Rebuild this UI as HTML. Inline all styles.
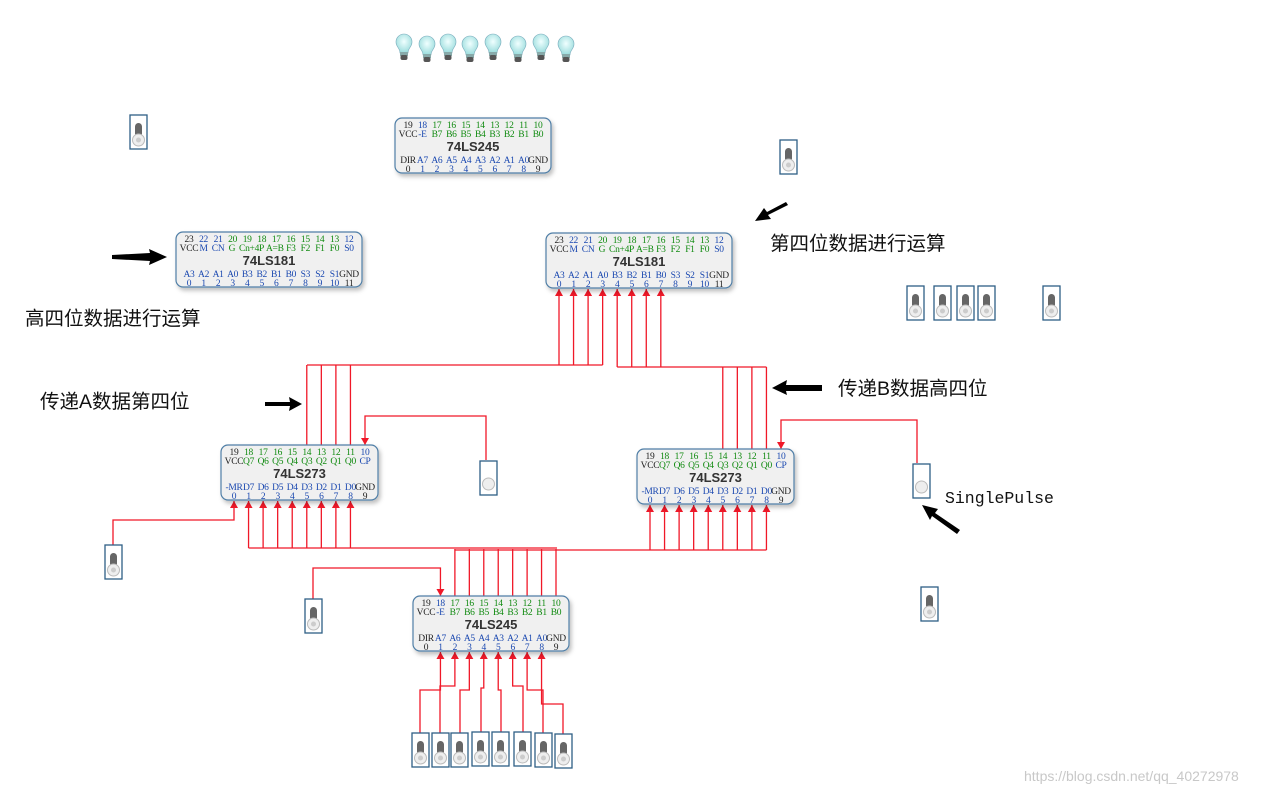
<!DOCTYPE html>
<html><head><meta charset="utf-8"><style>
html,body{margin:0;padding:0;background:#fff;width:1276px;height:793px;overflow:hidden}
svg{display:block}
.t{font-family:"Liberation Sans","Noto Sans CJK SC",sans-serif;font-size:19.5px;fill:#111}
</style></head><body>
<svg id="s" width="1276" height="793" xmlns="http://www.w3.org/2000/svg">
<defs>
<filter id="sh" x="-10%" y="-10%" width="130%" height="140%"><feDropShadow dx="2" dy="3" stdDeviation="2" flood-color="#000" flood-opacity="0.25"/></filter>
<radialGradient id="bg" cx="50%" cy="40%" r="60%"><stop offset="0" stop-color="#f0ffff"/><stop offset="1" stop-color="#9adcdc"/></radialGradient>
</defs>
<g id="w" fill="none" stroke="#f01828" stroke-width="1.3"></g>
<g id="ah" fill="#f01828"></g>
<g id="c"></g>
<text class="t" x="770" y="250">第四位数据进行运算</text>
<text class="t" x="25" y="325">高四位数据进行运算</text>
<text class="t" x="40" y="408">传递A数据第四位</text>
<text class="t" x="838" y="395">传递B数据高四位</text>
<text x="945" y="503" style="font-family:'Liberation Mono',monospace;font-size:16.5px" fill="#111">SinglePulse</text>
<text x="1024" y="781" style="font-family:'Liberation Sans',sans-serif;font-size:14px" fill="#c8c8c8">https://blog.csdn.net/qq_40272978</text>
<g fill="#000">
<path d="M112,255 L150,253 L149,249 L167,257 L149,265 L150,261 L112,259Z"/>
<path d="M265,402 L290,402 L289,397 L302,404 L289,411 L290,406 L265,406Z"/>
<path d="M788,205 L768,215 L771,219 L755,221 L764,208 L767,212 L786,202Z"/>
<path d="M822,385 L786,385 L787,380 L772,388 L787,395 L786,391 L822,391Z"/>
<path d="M960,530 L935,513 L938,509 L922,505 L930,520 L932,516 L957,534Z"/>
</g>
</svg>
<script>
var NS="http://www.w3.org/2000/svg",C=document.getElementById('c'),W=document.getElementById('w'),AH=document.getElementById('ah');
function el(p,n,a,t){var e=document.createElementNS(NS,n);for(var k in a)e.setAttribute(k,a[k]);if(t!=null)e.textContent=t;p.appendChild(e);return e;}
var K="#222",B="#1a48b0",G="#108a10";
function chip(x,y,w,tn,tnc,tm,tmc,title,bm,bmc,bn,bnc,tmx){
 var h=55;el(C,'rect',{x:x,y:y,width:w,height:h,rx:7,fill:'#f0f0f0',stroke:'#4f7ea6','stroke-width':1.2,filter:'url(#sh)'});
 var n=tn.length,s=(w-26)/(n-1);
 var f={'text-anchor':'middle','font-family':'Liberation Serif,serif','font-size':'9.5','letter-spacing':'-0.3'};
 function T(px,yy,txt,col){var a=Object.assign({},f);a.x=px;a.y=yy;a.fill=col;el(C,'text',a,txt);}
 for(var i=0;i<n;i++){var px=x+13+i*s;
  T(px,y+10,tn[i],tnc[i]);T(px,y+45,bm[i],bmc[i]);T(px,y+54,bn[i],bnc[i]);
  if(!tmx)T(px,y+19,tm[i],tmc[i]);}
 if(tmx)for(var j=0;j<tm.length;j++)T(x+13+tmx[j]*s,y+19,tm[j],tmc[j]);
 el(C,'text',{x:x+w/2,y:y+33,'text-anchor':'middle','font-family':'Liberation Sans,sans-serif','font-size':'13','font-weight':'bold',fill:'#333'},title);
 return function(i){return x+13+i*s;};
}
function rep(c,n){return Array(n).fill(c);}
function c245(x,y){return chip(x,y,156,['19','18','17','16','15','14','13','12','11','10'],[K,B].concat(rep(G,8)),
 ['VCC','-E','B7','B6','B5','B4','B3','B2','B1','B0'],[K,B].concat(rep(G,8)),'74LS245',
 ['DIR','A7','A6','A5','A4','A3','A2','A1','A0','GND'],[K].concat(rep(B,8),[K]),
 ['0','1','2','3','4','5','6','7','8','9'],[K].concat(rep(B,8),[K]));}
function c181(x,y){return chip(x,y,186,['23','22','21','20','19','18','17','16','15','14','13','12'],[K,B,B].concat(rep(G,8),[B]),
 ['VCC','M','CN','G','Cn+4P','A=B','F3','F2','F1','F0','S0'],[K,B,B,G,G,G,G,G,G,G,B],'74LS181',
 ['A3','A2','A1','A0','B3','B2','B1','B0','S3','S2','S1','GND'],rep(B,11).concat([K]),
 ['0','1','2','3','4','5','6','7','8','9','10','11'],rep(B,11).concat([K]),
 [0,1,2,2.95,4.3,5.9,7,8,9,10,11]);}
function c273(x,y){return chip(x,y,157,['19','18','17','16','15','14','13','12','11','10'],[K].concat(rep(G,8),[B]),
 ['VCC','Q7','Q6','Q5','Q4','Q3','Q2','Q1','Q0','CP'],[K].concat(rep(G,8),[B]),'74LS273',
 ['-MR','D7','D6','D5','D4','D3','D2','D1','D0','GND'],rep(B,9).concat([K]),
 ['0','1','2','3','4','5','6','7','8','9'],rep(B,9).concat([K]));}
c245(395,118);
c181(176,232);
var R181=c181(546,233);
var L273=c273(221,445);
var R273=c273(637,449);
var B245=c245(413,596);
function up(x,y){el(AH,'path',{d:'M'+x+','+y+' l-4,7 h8 Z'});}
function dn(x,y){el(AH,'path',{d:'M'+x+','+y+' l-4,-7 h8 Z'});}
function P(d){el(W,'path',{d:d});}
for(var i=0;i<4;i++){P('M'+R181(i)+',365 V289');up(R181(i),289);}
P('M307,365 H'+R181(3));
for(var i=0;i<4;i++){P('M'+L273(5+i)+',445 V365');}
for(var i=4;i<8;i++){P('M'+R181(i)+',367 V289');up(R181(i),289);}
P('M'+R181(4)+',367 H'+R273(8));
for(var i=5;i<9;i++){P('M'+R273(i)+',449 V367');}
P('M486,460 V416 H'+L273(9)+' V445');dn(L273(9),445);
P('M917,463 V420 H'+R273(9)+' V449');dn(R273(9),449);
P('M113,545 V520 H'+L273(0)+' V501');up(L273(0),501);
for(var i=1;i<9;i++){P('M'+L273(i)+',548 V501');up(L273(i),501);}
P('M'+L273(1)+',548 H557');
for(var i=0;i<9;i++){P('M'+R273(i)+',550 V505');up(R273(i),505);}
P('M455,550 H'+R273(8));
for(var i=2;i<10;i++){P('M'+B245(i)+',596 V549');}
P('M313,600 V568 H'+B245(1)+' V596');dn(B245(1),596);
var sw=[420,440,460,481,501,523,543,563],yy=[690,686,690,688,690,686,690,704];
for(var i=0;i<8;i++){P('M'+sw[i]+',735 V'+yy[i]+' H'+B245(i+1)+' V652');up(B245(i+1),652);}
function tog(x,y){var g=el(C,'g',{});el(g,'rect',{x:x,y:y,width:17,height:34,fill:'#fff',stroke:'#2e5f85','stroke-width':1.3});
 el(g,'rect',{x:x+5,y:y+8,width:7,height:14,rx:3.5,fill:'#666'});
 el(g,'circle',{cx:x+8.5,cy:y+25,r:6,fill:'#eee',stroke:'#bbb'});el(g,'circle',{cx:x+8.5,cy:y+25,r:2.5,fill:'#ccc'});}
function btn(x,y){var g=el(C,'g',{});el(g,'rect',{x:x,y:y,width:17,height:34,fill:'#fff',stroke:'#2e5f85','stroke-width':1.3});
 el(g,'circle',{cx:x+8.5,cy:y+23,r:6,fill:'#eee',stroke:'#bbb'});}
[[130,115],[780,140],[907,286],[934,286],[957,286],[978,286],[1043,286],[105,545],[305,599],[921,587],
 [412,733],[432,733],[451,733],[472,732],[492,732],[514,732],[535,733],[555,734]].forEach(function(p){tog(p[0],p[1]);});
btn(480,461);btn(913,464);
[404,427,448,470,493,518,541,566].forEach(function(x,i){var y=i%2?35:33;var g=el(C,'g',{});
 el(g,'path',{d:'M'+(x-8)+','+(y+9)+' a8,8 0 1,1 16,0 c0,5 -4,6 -4,11 h-8 c0,-5 -4,-6 -4,-11Z',fill:'url(#bg)',stroke:'#7ab','stroke-width':0.6});
 el(g,'rect',{x:x-4,y:y+19,width:8,height:4,fill:'#8aa'});
 el(g,'rect',{x:x-3.5,y:y+22,width:7,height:5,rx:2,fill:'#555'});});
</script>
</body></html>
